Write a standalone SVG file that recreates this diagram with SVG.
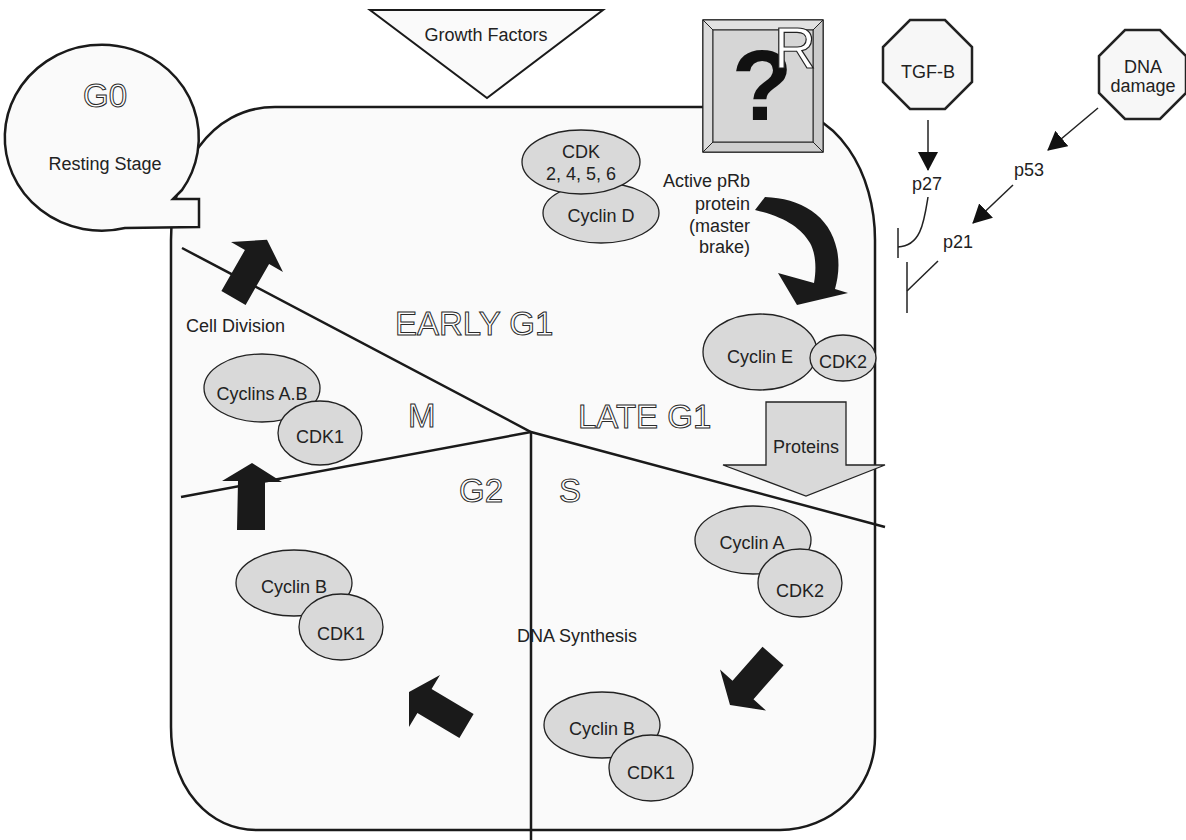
<svg xmlns="http://www.w3.org/2000/svg" width="1186" height="840" viewBox="0 0 1186 840">
<style>
  .t { font-family: "Liberation Sans", Arial, sans-serif; font-size: 18px; fill: #222; }
  .c { text-anchor: middle; }
  .r { text-anchor: end; }
  .ol { font-family: "Liberation Sans", Arial, sans-serif; font-size: 33px; fill: #ffffff; stroke: #2a2a2a; stroke-width: 1; }
  .ell { fill: #d9d9d9; stroke: #222; stroke-width: 1.3; }
  .div { stroke: #1a1a1a; stroke-width: 2.5; fill: none; }
  .blk { fill: #1a1a1a; stroke: none; }
  .thin { stroke: #222; stroke-width: 1.5; fill: none; }
  .oct { fill: #f7f7f7; stroke: #222; stroke-width: 2.5; }
</style>
<defs>
  <marker id="ah" markerUnits="userSpaceOnUse" markerWidth="20" markerHeight="20" viewBox="0 0 20 20" refX="18" refY="10" orient="auto">
    <path d="M0,0 L19,10 L0,20 Z" fill="#111"/>
  </marker>
</defs>
<rect width="1186" height="840" fill="#ffffff"/>

<g id="cell">
  <path d="M 171,240 C 171,170 210,107 275,107 L 770,107 C 840,107 875,175 875,240 L 875,737 C 875,790 830,830 780,830 L 257,830 C 210,830 171,790 171,727 Z" fill="#fafafa" stroke="#1a1a1a" stroke-width="2.5"/>
</g>

<g id="dividers">
  <path class="div" d="M 182,248 L 531,432 L 885,527"/>
  <path class="div" d="M 181,497 L 531,432"/>
  <path class="div" d="M 531,432 L 531,840"/>
</g>

<g id="g0">
  <path d="M 182,190 L 173,199 L 199,199 L 199,227 L 125,228 A 97 93 0 1 1 182,190 Z" fill="#fafafa" stroke="#1a1a1a" stroke-width="2.5"/>
  <text class="ol c" x="105" y="107">G0</text>
  <text class="t c" x="105" y="170">Resting Stage</text>
</g>

<g id="growth-factors">
  <path d="M 370,10 L 603,10 L 487,98 Z" fill="#fafafa" stroke="#1a1a1a" stroke-width="2"/>
  <text class="t c" x="486" y="41">Growth Factors</text>
</g>

<g id="r-box">
  <rect x="703" y="20" width="120" height="132" fill="#d6d6d6" stroke="#222" stroke-width="1.5"/>
  <path d="M 703,20 L 823,20 L 813,30 L 713,30 Z" fill="#e2e2e2" stroke="#222" stroke-width="1"/>
  <path d="M 703,20 L 713,30 L 713,142 L 703,152 Z" fill="#dcdcdc" stroke="#222" stroke-width="1"/>
  <path d="M 703,152 L 713,142 L 813,142 L 823,152 Z" fill="#cfcfcf" stroke="#222" stroke-width="1"/>
  <path d="M 823,20 L 823,152 L 813,142 L 813,30 Z" fill="#cbcbcb" stroke="#222" stroke-width="1"/>
  <rect x="713" y="30" width="100" height="112" fill="#d6d6d6" stroke="#222" stroke-width="1"/>
  <text x="762" y="120" text-anchor="middle" font-family="Liberation Sans, Arial, sans-serif" font-weight="bold" font-size="100" fill="#111">?</text>
  <text x="774" y="68" font-family="Liberation Sans, Arial, sans-serif" font-size="58" fill="#ffffff" stroke="#222" stroke-width="1.2">R</text>
</g>

<g id="tgf-b">
  <polygon class="oct" points="910,20 945,20 972,47 972,82 945,109 910,109 883,82 883,47"/>
  <text class="t c" x="928" y="78">TGF-B</text>
</g>

<g id="dna-damage">
  <polygon class="oct" points="1125,30 1160,30 1186,56 1186,93 1160,119 1125,119 1099,93 1099,56"/>
  <text class="t c" x="1143" y="73">DNA</text>
  <text class="t c" x="1143" y="92">damage</text>
</g>

<g id="p27"><text class="t c" x="927" y="190">p27</text></g>
<g id="p53"><text class="t c" x="1029" y="176">p53</text></g>
<g id="p21"><text class="t c" x="958" y="248">p21</text></g>

<g id="connectors">
  <line class="thin" x1="928" y1="120" x2="928" y2="170" marker-end="url(#ah)"/>
  <line class="thin" x1="1098" y1="108" x2="1048" y2="150" marker-end="url(#ah)"/>
  <line class="thin" x1="1013" y1="185" x2="973" y2="223" marker-end="url(#ah)"/>
  <path class="thin" d="M 928,197 C 924,222 921,246 898,247"/>
  <line class="thin" x1="898" y1="228" x2="898" y2="258"/>
  <line class="thin" x1="938" y1="261" x2="907" y2="291"/>
  <line class="thin" x1="907" y1="262" x2="907" y2="313"/>
</g>

<g id="cyclin-d">
  <ellipse class="ell" cx="601" cy="213" rx="58" ry="30"/>
  <text class="t c" x="601" y="222">Cyclin D</text>
</g>
<g id="cdk-2456">
  <ellipse class="ell" cx="581" cy="162" rx="59" ry="32"/>
  <text class="t c" x="581" y="158">CDK</text>
  <text class="t c" x="581" y="180">2, 4, 5, 6</text>
</g>

<g id="active-prb">
  <text class="t r" x="750" y="187">Active pRb</text>
  <text class="t r" x="750" y="210">protein</text>
  <text class="t r" x="750" y="232">(master</text>
  <text class="t r" x="750" y="253">brake)</text>
</g>

<g id="prb-arrow">
  <path class="blk" d="M 755,210 L 765,197 C 800,198 830,215 837,250 C 840,265 838,278 835,289 L 848,293 L 797,305 L 778,273 L 814,283 C 817,266 815,252 810,243 C 801,228 785,217 755,210 Z"/>
</g>

<g id="cyclin-e">
  <ellipse class="ell" cx="760" cy="352" rx="57" ry="38"/>
  <text class="t c" x="760" y="363">Cyclin E</text>
</g>
<g id="cdk2-e">
  <ellipse class="ell" cx="843" cy="358" rx="33" ry="23"/>
  <text class="t c" x="843" y="368">CDK2</text>
</g>

<g id="proteins">
  <path d="M 766,402 L 846,402 L 846,465 L 885,465 L 806,496 L 723,465 L 766,465 Z" fill="#d9d9d9" stroke="#222" stroke-width="1.3"/>
  <text class="t c" x="806" y="453">Proteins</text>
</g>

<g id="phase-labels">
  <text class="ol" x="395" y="335">EARLY G1</text>
  <text class="ol" x="578" y="428">LATE G1</text>
  <text class="ol" x="408" y="427">M</text>
  <text class="ol" x="459" y="502">G2</text>
  <text class="ol" x="559" y="502">S</text>
</g>

<g id="cell-division">
  <polygon class="blk" points="221.4,291 244.9,250 231,242 267,239.7 283,272 269.1,264 245.6,305"/>
  <text class="t" x="186" y="332">Cell Division</text>
</g>

<g id="cyclins-ab">
  <ellipse class="ell" cx="262" cy="388" rx="58" ry="34"/>
  <text class="t c" x="262" y="400">Cyclins A.B</text>
</g>
<g id="cdk1-m">
  <ellipse class="ell" cx="320" cy="433" rx="42" ry="32"/>
  <text class="t c" x="320" y="443">CDK1</text>
</g>

<g id="g2-arrow">
  <polygon class="blk" points="237,530 238,481 222,481 252,463 282,482 265,482 265,530"/>
</g>

<g id="cyclin-b-g2">
  <ellipse class="ell" cx="294" cy="583" rx="58" ry="33"/>
  <text class="t c" x="294" y="593">Cyclin B</text>
</g>
<g id="cdk1-g2">
  <ellipse class="ell" cx="341" cy="627" rx="42" ry="33"/>
  <text class="t c" x="341" y="640">CDK1</text>
</g>

<g id="s-arrow">
  <polygon class="blk" points="473.6,714 431.6,689 440,675 409,692 409,727 417.4,713 459.4,738"/>
</g>

<g id="cyclin-a">
  <ellipse class="ell" cx="753" cy="540" rx="58" ry="34"/>
  <text class="t c" x="752" y="549">Cyclin A</text>
</g>
<g id="cdk2-a">
  <ellipse class="ell" cx="800" cy="583" rx="42" ry="34"/>
  <text class="t c" x="800" y="597">CDK2</text>
</g>

<g id="late-arrow">
  <polygon class="blk" points="783.5,665.2 753.5,699.2 766,710.5 730,705 720,669.5 732.5,680.8 762.5,646.8"/>
</g>

<g id="dna-synthesis"><text class="t c" x="577" y="642">DNA Synthesis</text></g>

<g id="cyclin-b-s">
  <ellipse class="ell" cx="602" cy="725" rx="58" ry="33"/>
  <text class="t c" x="602" y="735">Cyclin B</text>
</g>
<g id="cdk1-s">
  <ellipse class="ell" cx="651" cy="768" rx="42" ry="33"/>
  <text class="t c" x="651" y="779">CDK1</text>
</g>
</svg>
